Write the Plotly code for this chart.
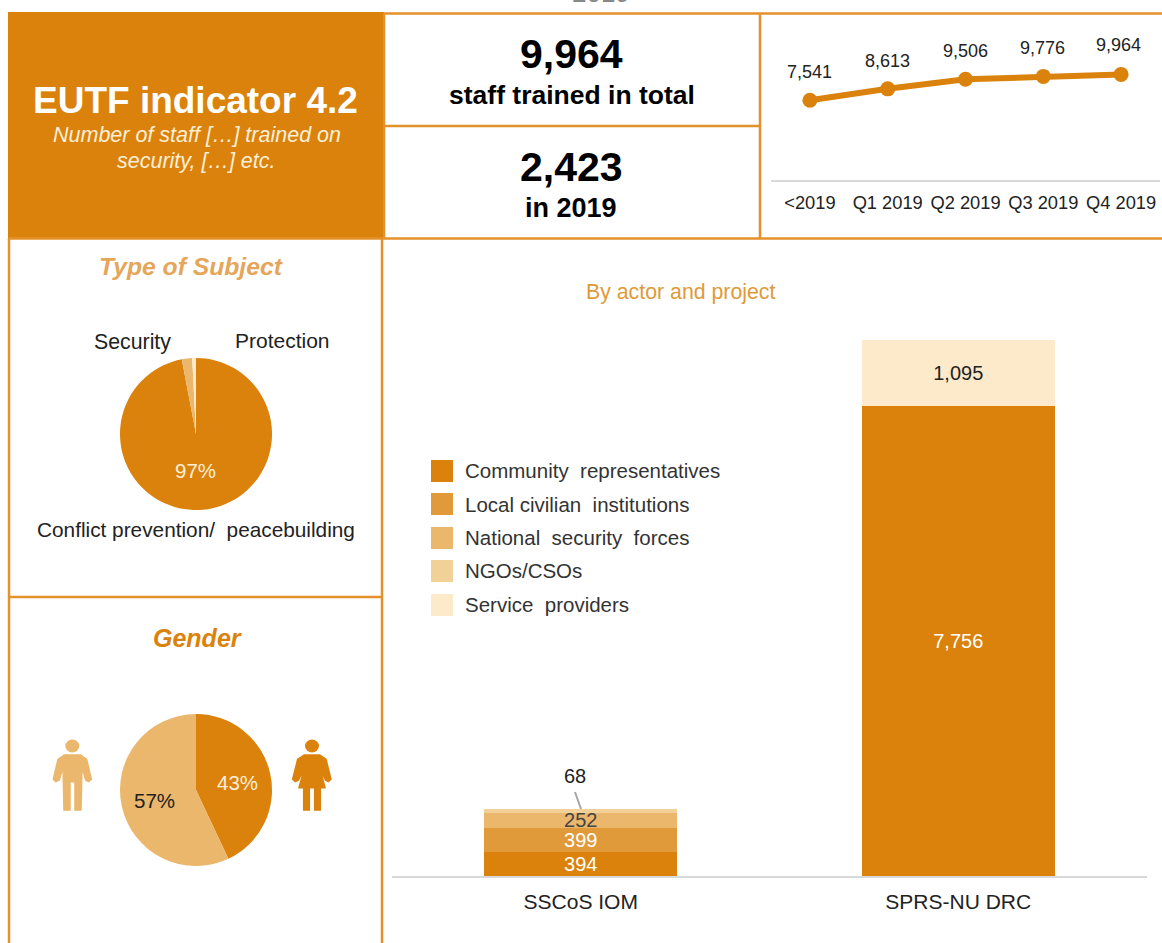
import plotly.graph_objects as go

W, H = 1162, 943
FONT = "Liberation Sans, Arial, sans-serif"
DARK = "#DA820B"
LOCAL = "#E09A3A"
NATIONAL = "#EAB76C"
NGO = "#F2D199"
SERVICE = "#FCEACB"
BORDER = "#E3922B"
TEXT = "#222222"

quarters = ["<2019", "Q1 2019", "Q2 2019", "Q3 2019", "Q4 2019"]
cumulative = [7541, 8613, 9506, 9776, 9964]

projects = ["SSCoS IOM", "SPRS-NU DRC"]
actors = ["Community representatives", "Local civilian institutions",
          "National security forces", "NGOs/CSOs", "Service providers"]
community = [394, 7756]
local_inst = [399, 0]
national = [252, 0]
ngos = [68, 0]
service = [0, 1095]

subjects = ["Conflict prevention/ peacebuilding", "Security", "Protection"]
subject_share = [97, 2.2, 0.8]
genders = ["Women", "Men"]
gender_share = [43, 57]


def fx(p):
    return p / W


def fy(p):
    return 1 - p / H


def dom_x(a, b):
    return [fx(a), fx(b)]


def dom_y(top, bottom):
    return [fy(bottom), fy(top)]


fig = go.Figure()

# Stacked bars
series = [
    (actors[0], community, DARK, "#FFFFFF"),
    (actors[1], local_inst, LOCAL, "#FFFFFF"),
    (actors[2], national, NATIONAL, "#444444"),
    (actors[3], ngos, NGO, TEXT),
    (actors[4], service, SERVICE, TEXT),
]
for name, vals, col, tcol in series:
    labels = []
    for v in vals:
        labels.append("" if v == 0 or v == 68 else f"{v:,}")
    fig.add_trace(go.Bar(
        x=projects, y=vals, name=name, marker=dict(color=col, line=dict(width=0)),
        text=labels, textposition="inside", textangle=0, constraintext="none",
        insidetextanchor="middle", cliponaxis=False, texttemplate="%{text}",
        textfont=dict(family=FONT, size=20, color=tcol),
        showlegend=False, xaxis="x", yaxis="y",
    ))

# Line
fig.add_trace(go.Scatter(
    x=quarters, y=cumulative, mode="lines+markers",
    line=dict(color=DARK, width=6), marker=dict(color=DARK, size=15),
    showlegend=False, xaxis="x2", yaxis="y2",
))

# Pies
fig.add_trace(go.Pie(
    labels=subjects, values=subject_share, sort=False, direction="clockwise", rotation=0,
    marker=dict(colors=[DARK, NATIONAL, SERVICE], line=dict(width=0)),
    textinfo="none", showlegend=False, automargin=False,
    domain=dict(x=dom_x(120, 272), y=dom_y(358, 510)),
))
fig.add_trace(go.Pie(
    labels=genders, values=gender_share, sort=False, direction="clockwise", rotation=0,
    marker=dict(colors=[DARK, NATIONAL], line=dict(width=0)),
    textinfo="none", showlegend=False, automargin=False,
    domain=dict(x=dom_x(120, 272), y=dom_y(714, 866)),
))

shapes = []


def rect(x0, y0, x1, y1, fill):
    shapes.append(dict(type="rect", xref="paper", yref="paper", x0=fx(x0), x1=fx(x1),
                       y0=fy(y0), y1=fy(y1), fillcolor=fill, line=dict(width=0), layer="below"))


def line(x0, y0, x1, y1, col=BORDER, w=2.5):
    shapes.append(dict(type="line", xref="paper", yref="paper", x0=fx(x0), x1=fx(x1),
                       y0=fy(y0), y1=fy(y1), line=dict(color=col, width=w)))


def polygon(points, fill, ox=20, oy=700):
    d = "M " + " L ".join(f"{fx(ox + a / 3):.5f},{fy(oy + b / 3):.5f}" for a, b in points) + " Z"
    shapes.append(dict(type="path", xref="paper", yref="paper", path=d, fillcolor=fill,
                       line=dict(color=fill, width=1.5)))


def ellipse(cx, cy, rx, ry, fill):
    shapes.append(dict(type="circle", xref="paper", yref="paper", x0=fx(cx - rx), x1=fx(cx + rx),
                       y0=fy(cy - ry), y1=fy(cy + ry), fillcolor=fill, line=dict(width=0)))


# Panels
rect(8, 12, 384, 238, DARK)
line(384, 13.5, 1162, 13.5)
line(384, 13, 384, 238)
line(760, 13, 760, 238)
line(384, 126, 760, 126)
line(9, 238.5, 1162, 238.5)
line(9, 238, 9, 943)
line(382, 238, 382, 943)
line(9, 597, 382, 597)

# Icons
man = [(133, 165), (182, 165), (200, 178), (214, 238), (206, 245), (197, 240), (186, 200),
       (183, 330), (165, 330), (165, 245), (150, 245), (150, 330), (132, 330), (129, 200),
       (118, 240), (107, 245), (100, 238), (114, 178)]
woman = [(853, 165), (899, 165), (918, 178), (933, 238), (925, 245), (916, 240), (898, 198),
         (915, 263), (901, 263), (901, 330), (884, 330), (884, 263), (868, 263), (868, 330),
         (851, 330), (851, 263), (837, 263), (855, 198), (836, 240), (826, 245), (818, 238),
         (833, 178)]
polygon(man, NATIONAL)
polygon(woman, DARK)
ellipse(72.3, 746, 7, 6.5, NATIONAL)
ellipse(312, 746, 7, 6.5, DARK)

# Legend
legend_tops = [460, 493, 527, 560, 594]
legend_cols = [DARK, LOCAL, NATIONAL, NGO, SERVICE]
for top, col in zip(legend_tops, legend_cols):
    rect(431, top, 453, top + 22, col)

# Leader line for the 68 label
line(575, 792, 581, 809, "#A6A6A6", 2)

ann = []


def txt(x, y, s, size=20, color=TEXT, bold=False, italic=False, anchor="center"):
    if bold:
        s = f"<b>{s}</b>"
    if italic:
        s = f"<i>{s}</i>"
    ann.append(dict(xref="paper", yref="paper", x=fx(x), y=fy(y), text=s, showarrow=False,
                    xanchor=anchor, yanchor="middle",
                    font=dict(family=FONT, size=size, color=color)))


txt(601, -7, "2019", 26, "#888888")
txt(195.5, 100, "EUTF indicator 4.2", 37, "#FFFFFF", bold=True)
txt(197, 135.5, "Number of staff […] trained on", 21.5, "#FDEFD9", italic=True)
txt(196, 161, "security, […] etc.", 21.5, "#FDEFD9", italic=True)
txt(571.5, 54, f"{cumulative[-1]:,}", 41, "#000000", bold=True)
txt(572, 95, "staff trained in total", 26.5, "#000000", bold=True)
txt(571.5, 167, "2,423", 41, "#000000", bold=True)
txt(571, 207.5, "in 2019", 27, "#000000", bold=True)
txt(191, 267, "Type of Subject", 24.7, "#E5A65A", bold=True, italic=True)
txt(197, 638, "Gender", 25, DARK, bold=True, italic=True)
txt(680, 291.5, "By actor and project", 21.3, LOCAL)
txt(132.5, 342, subjects[1], 21.3)
txt(282, 340, subjects[2], 21)
txt(196, 529, "Conflict prevention/  peacebuilding", 20.8)
txt(195, 470, f"{subject_share[0]}%", 20.5, "#FDEFD9")
txt(237, 782, f"{gender_share[0]}%", 20.5, "#FDEFD9")
txt(154, 800, f"{gender_share[1]}%", 20.5, TEXT)
txt(574.5, 776, f"{ngos[0]}", 20)
legend_text_y = [470, 504, 537, 570, 604]
legend_text = ["Community  representatives", "Local civilian  institutions",
               "National  security  forces", "NGOs/CSOs", "Service  providers"]
for y, name in zip(legend_text_y, legend_text):
    txt(463, y, name, 20.5, "#333333", anchor="left")

# Line labels through the data scale
label_dx = [0, 0, 0, -1, -3]
label_dy = [28, 28, 28, 28, 29]
for q, v, dx, dy in zip(quarters, cumulative, label_dx, label_dy):
    ann.append(dict(xref="x2", yref="y2", x=q, y=v, text=f"{v:,}", showarrow=False,
                    xshift=dx, yshift=dy, font=dict(family=FONT, size=18, color=TEXT)))

fig.update_layout(
    width=W, height=H, margin=dict(l=0, r=0, t=0, b=0), autosize=False,
    paper_bgcolor="#FFFFFF", plot_bgcolor="rgba(0,0,0,0)",
    barmode="stack", bargap=0.49, shapes=shapes, annotations=ann,
    xaxis=dict(domain=dom_x(392, 1147), type="category", range=[-0.5, 1.5], showgrid=False,
               zeroline=False, showline=True, linecolor="#D9D9D9", linewidth=2, ticks="",
               ticklabelstandoff=6, tickfont=dict(family=FONT, size=21, color=TEXT), anchor="y"),
    yaxis=dict(domain=dom_y(330, 876), range=[0, 546 / 0.0606], visible=False, anchor="x"),
    xaxis2=dict(domain=dom_x(771, 1160), type="category", range=[-0.5, 4.5], showgrid=False,
                zeroline=False, showline=True, linecolor="#D9D9D9", linewidth=2, ticks="",
                ticklabelstandoff=5, tickfont=dict(family=FONT, size=18.3, color=TEXT), anchor="y2"),
    yaxis2=dict(domain=dom_y(40, 180), range=[93, 140 / 0.0107 + 93], visible=False, anchor="x2"),
)

fig.write_html(
    "out.html",
    config={"responsive": False, "displayModeBar": False},
    default_width="1162px",
    default_height="943px",
    post_script="document.body.style.margin='0';document.body.style.overflow='hidden';",
)
